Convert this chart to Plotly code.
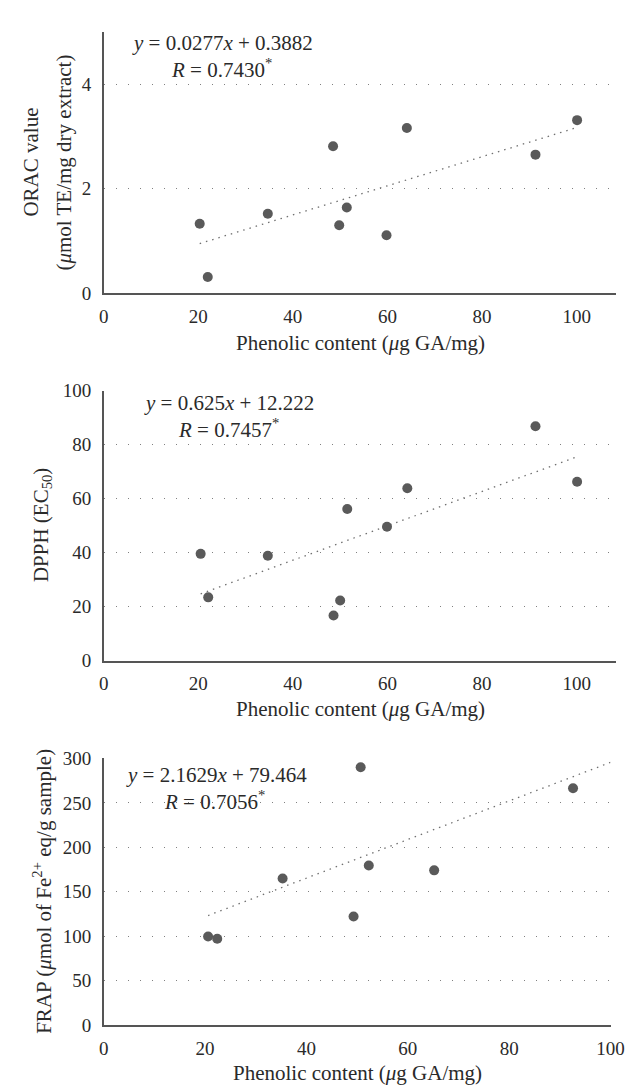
import plotly.graph_objects as go

W, H = 634, 1087

# ---- data ----
orac_x = [20.3, 22.0, 34.7, 48.5, 49.8, 51.4, 59.8, 64.1, 91.3, 100.1]
orac_y = [1.33, 0.31, 1.52, 2.81, 1.30, 1.64, 1.11, 3.16, 2.65, 3.31]
orac_trend_x = [20.3, 100.1]
orac_trend_y = [0.95, 3.17]

dpph_x = [20.5, 22.1, 34.7, 48.6, 50.0, 51.5, 59.9, 64.2, 91.3, 100.1]
dpph_y = [39.6, 23.5, 38.9, 16.8, 22.3, 56.2, 49.6, 63.9, 86.8, 66.3]
dpph_trend_x = [20.5, 99.6]
dpph_trend_y = [24.8, 75.2]

frap_x = [20.6, 22.4, 35.3, 49.3, 50.7, 52.3, 65.2, 92.6]
frap_y = [99.7, 97.2, 164.9, 122.2, 290.0, 179.6, 174.1, 266.5]
frap_trend_x = [20.6, 100.9]
frap_trend_y = [123.3, 297.5]

x_ticks_12 = [0, 20, 40, 60, 80, 100]
x_ticks_3 = [0, 20, 40, 60, 80, 100]
orac_ticks = [0, 2, 4]
dpph_ticks = [0, 20, 40, 60, 80, 100]
frap_ticks = [0, 50, 100, 150, 200, 250, 300]

x_title = "Phenolic content (<i>μ</i>g GA/mg)"
orac_title_1 = "ORAC value"
orac_title_2 = "(<i>μ</i>mol TE/mg dry extract)"
dpph_title = "DPPH (EC<sub>50</sub>)"
frap_title = "FRAP (<i>μ</i>mol of Fe<sup>2+</sup> eq/g sample)"
orac_eq = ["<i>y</i> = 0.0277<i>x</i> + 0.3882", "<i>R</i> = 0.7430<sup>*</sup>"]
dpph_eq = ["<i>y</i> = 0.625<i>x</i> + 12.222", "<i>R</i> = 0.7457<sup>*</sup>"]
frap_eq = ["<i>y</i> = 2.1629<i>x</i> + 79.464", "<i>R</i> = 0.7056<sup>*</sup>"]

FONT = "Liberation Serif"
TXT = "#2a2a2a"
FS_TICK = 19
FS_TEXT = 21
MARK = "#5a5a5a"
AXC = "#555555"


def px(xp):
    return xp / W


def py(yp):
    return 1 - yp / H


fig = go.Figure()

panels = [
    (orac_x, orac_y, orac_trend_x, orac_trend_y, "x", "y"),
    (dpph_x, dpph_y, dpph_trend_x, dpph_trend_y, "x2", "y2"),
    (frap_x, frap_y, frap_trend_x, frap_trend_y, "x3", "y3"),
]
for xs, ys, tx, ty, xa, ya in panels:
    fig.add_trace(go.Scatter(x=tx, y=ty, mode="lines", xaxis=xa, yaxis=ya,
                             line=dict(color="#707070", width=1.3, dash="1.5px,5px"),
                             showlegend=False, hoverinfo="skip"))
    fig.add_trace(go.Scatter(x=xs, y=ys, mode="markers", xaxis=xa, yaxis=ya,
                             marker=dict(color=MARK, size=10, line=dict(width=0)),
                             showlegend=False))


def xaxis(domain, rng, ticks, anchor):
    return dict(domain=domain, range=rng, tickvals=ticks, anchor=anchor,
                showline=True, linecolor=AXC, linewidth=1.5, showgrid=False,
                zeroline=False, ticks="outside", ticklen=5,
                tickcolor="rgba(0,0,0,0)",
                tickfont=dict(family=FONT, size=FS_TICK, color=TXT))


def yaxis(domain, rng, ticks, anchor):
    return dict(domain=domain, range=rng, tickvals=ticks, anchor=anchor,
                showline=True, linecolor=AXC, linewidth=1.5, showgrid=True,
                gridcolor="#808080", gridwidth=1, griddash="1px,11px",
                zeroline=False, ticks="outside", ticklen=7,
                tickcolor="rgba(0,0,0,0)",
                tickfont=dict(family=FONT, size=FS_TICK, color=TXT))


fig.update_layout(
    width=W, height=H,
    margin=dict(l=0, r=0, t=0, b=0),
    paper_bgcolor="white", plot_bgcolor="white",
    xaxis=xaxis([px(93.5), px(622)], [0, 108.4], x_ticks_12, "y"),
    yaxis=yaxis([py(280.7), py(14)], [0, 5], orac_ticks, "x"),
    xaxis2=xaxis([px(93.5), px(622)], [0, 108.4], x_ticks_12, "y2"),
    yaxis2=yaxis([py(655.5), py(380)], [0, 100], dpph_ticks, "x2"),
    xaxis3=xaxis([px(93.5), px(616)], [0, 100], x_ticks_3, "y3"),
    yaxis3=yaxis([py(1027), py(755)], [0, 300], frap_ticks, "x3"),
)

ann = []


def add_text(text, x, y, xanchor="center", angle=0, size=FS_TEXT):
    ann.append(dict(text=text, x=px(x), y=py(y), xref="paper", yref="paper",
                    xanchor=xanchor, yanchor="middle", showarrow=False,
                    textangle=angle, font=dict(family=FONT, size=size, color=TXT)))


# x-axis titles
add_text(x_title, 358, 331)
add_text(x_title, 358, 705)
add_text(x_title, 355, 1076)
# y-axis titles
add_text(orac_title_1, 19, 147, angle=-90)
add_text(orac_title_2, 53, 147, angle=-90)
add_text(dpph_title, 30, 517, angle=-90)
add_text(frap_title, 31, 891, angle=-90)
# equations
add_text(orac_eq[0], 121, 25, xanchor="left")
add_text(orac_eq[1], 161, 51, xanchor="left")
add_text(dpph_eq[0], 133, 393, xanchor="left")
add_text(dpph_eq[1], 168, 419, xanchor="left")
add_text(frap_eq[0], 114, 772, xanchor="left")
add_text(frap_eq[1], 154, 798, xanchor="left")

fig.update_layout(annotations=ann)
fig.write_html("out.html")
